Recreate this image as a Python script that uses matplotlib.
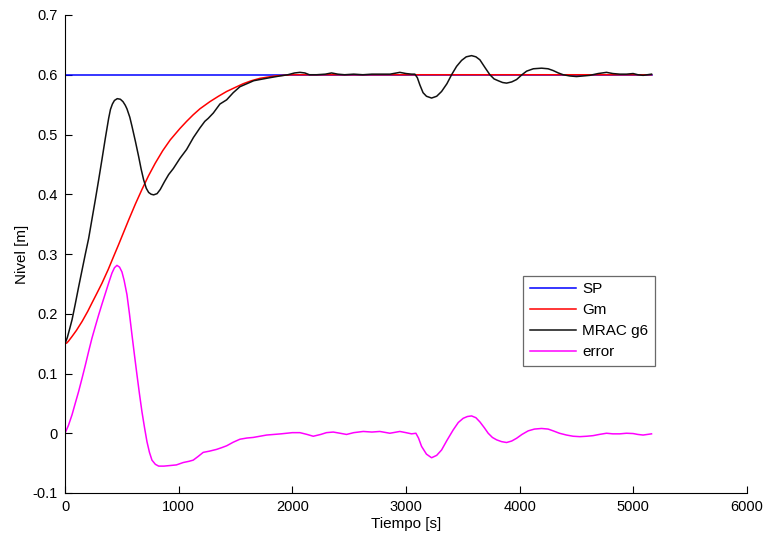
import matplotlib
matplotlib.use("Agg")
import matplotlib.pyplot as plt

plt.rcParams['font.family'] = ['Liberation Sans', 'DejaVu Sans']

# setpoint: starts at the initial level, then steps to 0.6 m
sp_t = [0, 0, 5160]
sp_y = [0.15, 0.60, 0.60]

# reference model output Gm
gm_t = [0, 15, 30, 62, 100, 150, 200, 237, 280, 325, 380, 428, 470, 500, 560,
        620, 677, 735, 794, 860, 926, 1011, 1070, 1128, 1187, 1275, 1350, 1422,
        1500, 1568, 1640, 1715, 1780, 1850, 1920, 2000, 5160]
gm_y = [0.150, 0.151, 0.154, 0.162, 0.172, 0.187, 0.204, 0.218, 0.234, 0.251,
        0.274, 0.296, 0.315, 0.329, 0.357, 0.384, 0.408, 0.431, 0.452, 0.473,
        0.491, 0.510, 0.522, 0.533, 0.543, 0.555, 0.564, 0.572, 0.579, 0.585,
        0.590, 0.594, 0.596, 0.598, 0.599, 0.600, 0.600]

# plant level under MRAC g6
mrac_t = [0, 20, 40, 62, 90, 120, 150, 179, 208, 237, 267, 296, 325, 355, 384,
          400, 417, 435, 460, 487, 510, 530, 545, 570, 589, 620, 648, 670, 692,
          715, 736, 758, 780, 810, 838, 875, 912, 953, 1011, 1070, 1130, 1187,
          1230, 1260, 1305, 1363, 1422, 1480, 1539, 1600, 1660, 1715, 1800, 1891,
          1960, 2020, 2067, 2110, 2150, 2214, 2290, 2345, 2400, 2460, 2540, 2620,
          2700, 2770, 2860, 2946, 3000, 3050, 3078, 3100, 3122, 3150, 3180, 3225,
          3270, 3313, 3360, 3401, 3445, 3489, 3530, 3577, 3615, 3650, 3695, 3738,
          3775, 3811, 3850, 3885, 3930, 3973, 4020, 4061, 4120, 4193, 4250, 4295,
          4340, 4383, 4440, 4500, 4560, 4617, 4690, 4764, 4820, 4881, 4940, 4998,
          5040, 5086, 5160]
mrac_y = [0.150, 0.160, 0.174, 0.190, 0.216, 0.245, 0.273, 0.300, 0.326, 0.358,
          0.391, 0.424, 0.458, 0.494, 0.527, 0.542, 0.551, 0.557, 0.560, 0.559,
          0.555, 0.549, 0.543, 0.529, 0.514, 0.488, 0.463, 0.442, 0.424, 0.410,
          0.403, 0.400, 0.399, 0.401, 0.408, 0.421, 0.433, 0.443, 0.460, 0.475,
          0.495, 0.511, 0.522, 0.527, 0.536, 0.551, 0.558, 0.570, 0.580, 0.585,
          0.590, 0.592, 0.595, 0.598, 0.600, 0.603, 0.604, 0.603, 0.600, 0.600,
          0.601, 0.603, 0.601, 0.600, 0.601, 0.600, 0.601, 0.601, 0.601, 0.604,
          0.602, 0.601, 0.601, 0.595, 0.583, 0.570, 0.564, 0.561, 0.564, 0.572,
          0.585, 0.600, 0.614, 0.624, 0.630, 0.632, 0.630, 0.625, 0.612, 0.600,
          0.593, 0.590, 0.587, 0.586, 0.588, 0.592, 0.600, 0.606, 0.610, 0.611,
          0.610, 0.607, 0.603, 0.600, 0.598, 0.597, 0.598, 0.599, 0.602, 0.604,
          0.602, 0.601, 0.601, 0.602, 0.600, 0.599, 0.601]

# tracking error
err_t = [0, 30, 62, 90, 120, 150, 179, 208, 237, 267, 296, 325, 355, 385, 413,
         435, 457, 480, 501, 520, 545, 567, 589, 611, 633, 655, 677, 700, 721,
         743, 765, 795, 824, 870, 926, 980, 1040, 1090, 1128, 1170, 1216, 1270,
         1334, 1380, 1422, 1480, 1539, 1600, 1656, 1774, 1900, 2000, 2067, 2130,
         2184, 2250, 2300, 2360, 2420, 2477, 2540, 2624, 2700, 2770, 2858, 2946,
         3000, 3049, 3087, 3110, 3137, 3180, 3225, 3270, 3313, 3360, 3415, 3460,
         3503, 3540, 3577, 3615, 3650, 3690, 3723, 3760, 3797, 3840, 3885, 3930,
         3973, 4020, 4075, 4130, 4193, 4250, 4295, 4350, 4412, 4470, 4530, 4590,
         4646, 4700, 4764, 4820, 4881, 4940, 4998, 5040, 5086, 5160]
err_y = [0.000, 0.013, 0.031, 0.050, 0.070, 0.092, 0.114, 0.137, 0.159, 0.179,
         0.198, 0.216, 0.234, 0.252, 0.268, 0.277, 0.281, 0.278, 0.270, 0.256,
         0.232, 0.200, 0.165, 0.131, 0.098, 0.066, 0.036, 0.009, -0.014, -0.032,
         -0.045, -0.052, -0.055, -0.055, -0.054, -0.053, -0.049, -0.047, -0.045,
         -0.039, -0.032, -0.030, -0.027, -0.024, -0.021, -0.015, -0.010, -0.008,
         -0.007, -0.003, -0.001, 0.001, 0.001, -0.002, -0.005, -0.002, 0.001,
         0.002, 0.000, -0.002, 0.001, 0.003, 0.002, 0.003, 0.000, 0.003, 0.001,
         -0.001, 0.000, -0.008, -0.022, -0.035, -0.041, -0.037, -0.028, -0.012,
         0.0055, 0.018, 0.025, 0.028, 0.029, 0.026, 0.019, 0.009, 0.000, -0.007,
         -0.011, -0.014, -0.0155, -0.013, -0.0084, -0.002, 0.004, 0.007, 0.008,
         0.007, 0.004, 0.000, -0.003, -0.005, -0.0057, -0.005, -0.004, -0.002,
         0.000, -0.001, -0.001, 0.000, -0.0005, -0.002, -0.003, -0.001]

fig = plt.figure(figsize=(7.69, 5.39), dpi=100)
ax = fig.add_axes([65 / 769, 46 / 539, 682 / 769, 478 / 539])

ax.plot(sp_t, sp_y, color='#0000ff', lw=1.1, label='SP')
ax.plot(gm_t, gm_y, color='#ff0000', lw=1.1, label='Gm')
ax.plot(mrac_t, mrac_y, color='#111111', lw=1.1, label='MRAC g6')
ax.plot(err_t, err_y, color='#ff00ff', lw=1.1, label='error')

ax.set_xlim(0, 6000)
ax.set_ylim(-0.1, 0.7)
ax.set_xticks(range(0, 6001, 1000))
yticks = [-0.1, 0, 0.1, 0.2, 0.3, 0.4, 0.5, 0.6, 0.7]
ax.set_yticks(yticks)
ax.set_yticklabels(['%g' % v for v in yticks])

ax.spines['top'].set_visible(False)
ax.spines['right'].set_visible(False)
ax.tick_params(direction='in', length=5, width=0.8, labelsize=10.5, pad=5)

ax.set_xlabel('Tiempo [s]', fontsize=11, labelpad=2)
ax.set_ylabel('Nivel [m]', fontsize=11, labelpad=3)

leg = ax.legend(loc='upper left', bbox_to_anchor=(0.672, 0.455), fontsize=11,
                frameon=True, fancybox=False, edgecolor='#444444',
                handlelength=3.0, labelspacing=0.45, borderpad=0.45,
                handletextpad=0.4, borderaxespad=0)
leg.get_frame().set_linewidth(0.9)

fig.savefig('out.png', dpi=100)
